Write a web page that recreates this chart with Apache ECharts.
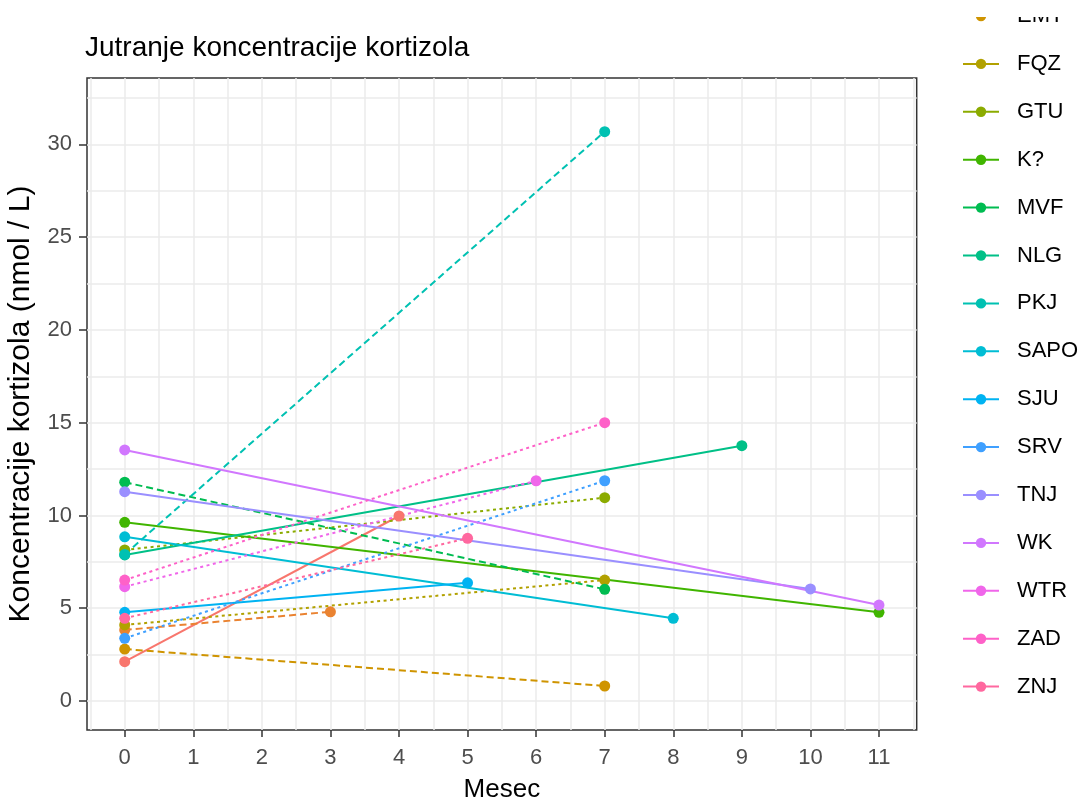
<!DOCTYPE html>
<html>
<head>
<meta charset="utf-8">
<script src="https://cdn.jsdelivr.net/npm/echarts@6/dist/echarts.min.js"></script>
<style>
html,body{margin:0;padding:0;background:#fff;}
#chart{width:1080px;height:803px;}
</style>
</head>
<body>
<div id="chart"></div>
<script>
// ---- data ----
const seriesNames = ['S1', 'S2', 'EMT', 'FQZ', 'GTU', 'K?', 'MVF', 'NLG', 'PKJ', 'SAPO', 'SJU', 'SRV', 'TNJ', 'WK', 'WTR', 'ZAD', 'ZNJ'];
const legendNames = ['EMT', 'FQZ', 'GTU', 'K?', 'MVF', 'NLG', 'PKJ', 'SAPO', 'SJU', 'SRV', 'TNJ', 'WK', 'WTR', 'ZAD', 'ZNJ'];
const startMonth = [0, 0, 0, 0, 0, 0, 0, 0, 0, 0, 0, 0, 0, 0, 0, 0, 0];
const startValue = [2.12, 3.83, 2.80, 4.10, 8.14, 9.63, 11.79, 7.87, 7.90, 8.85, 4.78, 3.38, 11.28, 13.53, 6.16, 6.52, 4.46];
const endMonth = [4, 3, 7, 7, 7, 11, 7, 9, 7, 8, 5, 7, 10, 11, 6, 7, 5];
const endValue = [9.97, 4.81, 0.81, 6.52, 10.96, 4.78, 6.02, 13.76, 30.68, 4.46, 6.37, 11.87, 6.04, 5.17, 11.87, 15.00, 8.77];

const xTickValues = [0, 1, 2, 3, 4, 5, 6, 7, 8, 9, 10, 11];
const xGridValues = [-0.5, 0, 0.5, 1, 1.5, 2, 2.5, 3, 3.5, 4, 4.5, 5, 5.5, 6, 6.5, 7, 7.5, 8, 8.5, 9, 9.5, 10, 10.5, 11, 11.5];
const yTickValues = [0, 5, 10, 15, 20, 25, 30];
const yGridValues = [0, 2.5, 5, 7.5, 10, 12.5, 15, 17.5, 20, 22.5, 25, 27.5, 30, 32.5];

// ---- styles ----
const colors = ['#F8766D', '#EA8331', '#CF9400', '#B2A100', '#8BAB00', '#40B500', '#00BC51', '#00C087', '#00C1B2', '#00BDD4', '#00B3F2', '#3FA0FF', '#9A8FFF', '#D177FE', '#F066EA', '#FE61C8', '#FF689F'];
const lineKinds = ['solid', 'dashed', 'dashed', 'dotted', 'dotted', 'solid', 'dashed', 'solid', 'dashed', 'solid', 'solid', 'dotted', 'solid', 'solid', 'dotted', 'dotted', 'dotted'];
const dashMap = { solid: 'solid', dashed: [7, 4], dotted: [3, 3.5] };
const FONT = 'Liberation Sans, Arial, sans-serif';

const chart = echarts.init(document.getElementById('chart'), null, { renderer: 'canvas' });

const series = seriesNames.map((n, i) => ({
  name: n,
  type: 'line',
  xAxisIndex: 0,
  yAxisIndex: 0,
  data: [[startMonth[i], startValue[i]], [endMonth[i], endValue[i]]],
  symbol: 'circle',
  symbolSize: 11,
  showSymbol: true,
  lineStyle: { color: colors[i], width: 2, type: dashMap[lineKinds[i]] },
  itemStyle: { color: colors[i] },
  emphasis: { disabled: true },
  silent: true,
  z: 3
}));

const option = {
  animation: false,
  backgroundColor: '#ffffff',
  title: {
    text: 'Jutranje koncentracije kortizola',
    left: 85,
    top: 34,
    padding: 0,
    textStyle: { fontFamily: FONT, fontSize: 28, fontWeight: 'normal', color: '#000' }
  },
  legend: {
    data: legendNames,
    orient: 'vertical',
    left: 962,
    top: 5,
    padding: 0,
    itemWidth: 36,
    itemHeight: 13,
    itemGap: 25.9,
    lineStyle: { type: 'solid', width: 2 },
    textStyle: { fontFamily: FONT, fontSize: 22, color: '#000', padding: [0, 0, 0, 13] },
    selectedMode: false
  },
  graphic: [
    { type: 'rect', left: 940, top: 0, shape: { width: 140, height: 17 }, style: { fill: '#ffffff' }, z: 100 }
  ],
  grid: {
    left: 87, right: 163.3, top: 78, bottom: 73,
    outerBoundsMode: 'none',
    containLabel: false,
    show: true, borderColor: '#333333', borderWidth: 1.5, backgroundColor: 'transparent'
  },
  xAxis: [
    {
      type: 'value', min: -0.55, max: 11.55, position: 'bottom',
      axisLine: { show: false, onZero: false },
      axisTick: { show: false, customValues: xGridValues },
      axisLabel: { show: false },
      splitLine: { show: true, lineStyle: { color: '#EBEBEB', width: 1.5 } }
    },
    {
      type: 'value', min: -0.55, max: 11.55, position: 'bottom',
      axisLine: { show: false, onZero: false },
      axisTick: { show: true, customValues: xTickValues, length: 7, lineStyle: { color: '#333333', width: 1.5 } },
      axisLabel: { customValues: xTickValues, color: '#4D4D4D', fontSize: 22, margin: 17, fontFamily: FONT },
      splitLine: { show: false },
      name: 'Mesec', nameLocation: 'middle', nameGap: 47,
      nameTextStyle: { fontFamily: FONT, fontSize: 26, color: '#000' }
    }
  ],
  yAxis: [
    {
      type: 'value', min: -1.56, max: 33.57, position: 'left',
      axisLine: { show: false, onZero: false },
      axisTick: { show: false, customValues: yGridValues },
      axisLabel: { show: false },
      splitLine: { show: true, lineStyle: { color: '#EBEBEB', width: 1.5 } }
    },
    {
      type: 'value', min: -1.56, max: 33.57, position: 'left',
      axisLine: { show: false, onZero: false },
      axisTick: { show: true, customValues: yTickValues, length: 8, lineStyle: { color: '#333333', width: 1.5 } },
      axisLabel: { customValues: yTickValues, color: '#4D4D4D', fontSize: 22, margin: 15, fontFamily: FONT },
      splitLine: { show: false },
      name: 'Koncentracije kortizola (nmol / L)', nameLocation: 'middle', nameGap: 51,
      nameTextStyle: { fontFamily: FONT, fontSize: 30, color: '#000' }
    }
  ],
  series: series
};

chart.setOption(option);
</script>
</body>
</html>
